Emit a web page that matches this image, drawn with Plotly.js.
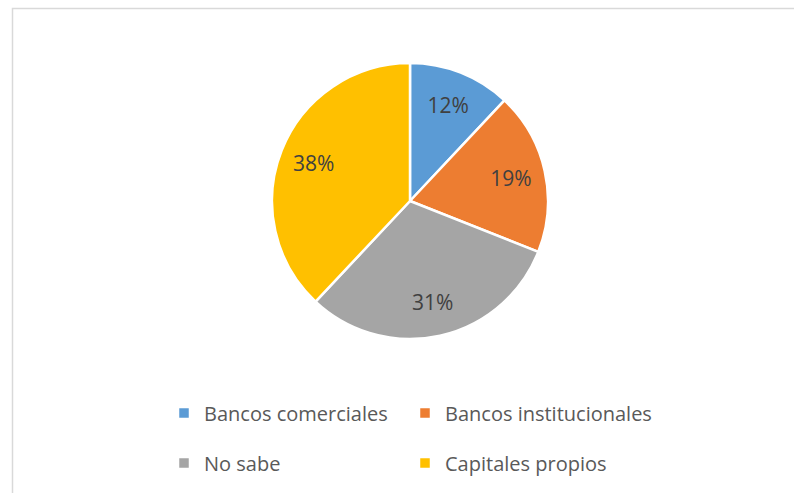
<!DOCTYPE html>
<html>
<head>
<meta charset="utf-8">
<script src="https://cdn.plot.ly/plotly-3.0.1.min.js"></script>
<style>html,body{margin:0;padding:0;background:#fff;}#chart{width:794px;height:493px;}</style>
</head>
<body>
<div id="chart"></div>
<script>
const categories = ["Bancos comerciales", "Bancos institucionales", "No sabe", "Capitales propios"];
const values = [12, 19, 31, 38];
const colors = ["#5B9BD5", "#ED7D31", "#A5A5A5", "#FFC000"];

const W = 794, H = 493;
const cx = 410, cy = 201, R = 138;
const font = "Open Sans, Noto Sans, sans-serif";
const pieDomain = {x: [(cx - R) / W, (cx + R) / W], y: [(H - cy - R) / H, (H - cy + R) / H]};

// legend layout: 2 columns x 2 rows, as in the original
const legendNames = ["legend", "legend2", "legend3", "legend4"];
const legendCols = [164, 405, 164, 405];
const legendRows = [413, 413, 463, 463];

function legendPie(i) {
  return {
    type: "pie",
    labels: [categories[i]],
    values: [values[i]],
    marker: {colors: [colors[i]], line: {color: "#ffffff", width: 2.5}},
    sort: false, direction: "clockwise", rotation: 0,
    textinfo: "none", hoverinfo: "skip",
    domain: {x: [0.001, 0.0011], y: [0.5, 0.5001]},
    legend: legendNames[i], showlegend: true
  };
}

// the pie itself
const mainPie = {
  type: "pie",
  labels: categories,
  values: values,
  marker: {colors: colors, line: {color: "#ffffff", width: 2.5}},
  sort: false,
  direction: "clockwise",
  rotation: 0,
  textinfo: "none",
  domain: pieDomain,
  showlegend: false
};

// percentage labels, placed in the outer ring like the original
const labelPie = {
  type: "pie",
  labels: categories,
  values: values,
  hole: 0.5,
  marker: {colors: categories.map(() => "rgba(0,0,0,0)"), line: {width: 0}},
  sort: false,
  direction: "clockwise",
  rotation: 0,
  textinfo: "percent",
  texttemplate: "%{percent:.0%}",
  textposition: "inside",
  insidetextorientation: "horizontal",
  textfont: {family: font, size: 21, color: "#404040"},
  domain: pieDomain,
  hoverinfo: "skip",
  showlegend: false
};

const layout = {
  width: W, height: H,
  margin: {l: 0, r: 0, t: 0, b: 0},
  paper_bgcolor: "#ffffff",
  showlegend: true,
  shapes: [{
    type: "rect", xref: "paper", yref: "paper",
    x0: 12.5 / W, x1: 1.05, y0: -0.05, y1: 1 - 8.5 / H,
    line: {color: "#D9D9D9", width: 1.5}, fillcolor: "rgba(0,0,0,0)", layer: "below"
  }]
};

legendNames.forEach((name, i) => {
  layout[name] = {
    orientation: "h",
    xanchor: "left", yanchor: "middle",
    x: legendCols[i] / W, y: 1 - legendRows[i] / H,
    font: {family: font, size: 20, color: "#595959"},
    bgcolor: "rgba(0,0,0,0)",
    itemclick: false, itemdoubleclick: false
  };
});

const traces = [mainPie, labelPie].concat(categories.map((c, i) => legendPie(i)));
Plotly.newPlot("chart", traces, layout, {displayModeBar: false, staticPlot: true});
</script>
</body>
</html>
